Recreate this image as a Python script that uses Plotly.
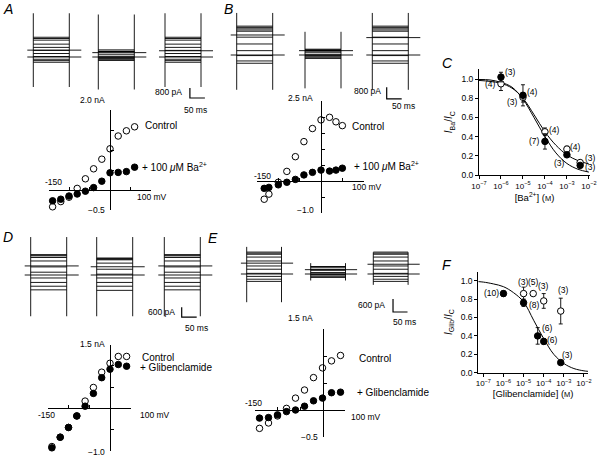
import math
import plotly.graph_objects as go

W, H = 600, 459
FONT = "Liberation Sans, Arial, Helvetica, sans-serif"

# ---------------- I-V relations (mV, nA) ----------------
V_A = [-140, -120, -100, -80, -60, -40, -20, 0, 20, 40, 60]
I_A_CONTROL = [-0.42, -0.29, -0.18, 0.04, 0.28, 0.53, 0.77, 1.03, 1.35, 1.48, 1.58]
I_A_BA = [-0.27, -0.23, -0.15, -0.10, -0.03, 0.06, 0.22, 0.43, 0.44, 0.46, 0.57]

V_B = [-133, -122, -100, -80, -60, -40, -20, 0, 20, 35, 50]
I_B_CONTROL = [-0.57, -0.41, -0.04, 0.30, 0.76, 1.23, 1.64, 1.91, 1.99, 1.85, 1.73]
I_B_BA = [-0.23, -0.20, -0.12, -0.04, 0.05, 0.19, 0.27, 0.34, 0.31, 0.34, 0.40]

V_D = [-140, -120, -100, -80, -60, -40, -20, 0, 20, 40, 60]
I_D_CONTROL = [-0.90, -0.68, -0.45, -0.18, 0.17, 0.49, 0.85, 1.06, 1.22, 1.22, 1.16]
I_D_GLIB = [-0.93, -0.68, -0.45, -0.18, 0.05, 0.35, 0.72, 0.92, 1.03, 0.99, 0.96]

V_E = [-140, -120, -100, -80, -60, -40, -20, 0, 20, 40, 60]
I_E_CONTROL = [-0.34, -0.24, -0.11, 0.03, 0.22, 0.37, 0.60, 0.78, 0.91, 1.01, 0.96]
I_E_GLIB = [-0.15, -0.14, -0.09, -0.03, 0.00, 0.07, 0.17, 0.22, 0.32, 0.33, 0.34]

IV_XTICKS = [-150, -100, -50, 50, 100]

# ---------------- current-record protocol ----------------
PULSE_MS = 120
PRE_MS = 20
POST_MS = 40
HOLD_A = [[0.55, 0.0], [0.35, 0.0], [0.5, 0.0]]
HOLD_B = [[1.38, 0.0], [0.3, 0.0], [1.2, 0.0]]
HOLD_D = [[0.55, 0.0], [0.5, 0.0], [0.55, 0.0]]
HOLD_E = [[0.5, 0.0], [0.2, 0.0], [0.45, 0.0]]
TRANS_A = [[3.5, -2.4], [3.4, -2.6], [3.5, -2.4]]
TRANS_B = [[2.9, -2.4], [1.6, -2.3], [2.9, -2.4]]
TRANS_D = [[2.3, -2.5], [2.3, -2.5], [2.3, -2.5]]
TRANS_E = [[1.25, -1.3], [0.5, -0.3], [1.0, -0.5]]
BAR_MS = 50
BAR_A_PA = 800
BAR_D_PA = 600

# ---------------- dose-response data ----------------
BA_CONC = [1e-6, 1e-5, 1e-4, 1e-3, 4e-3]
BA_FILLED = [1.02, 0.83, 0.35, 0.21, 0.10]
BA_FILLED_ERR = [0.05, 0.11, 0.08, 0.02, 0.02]
BA_FILLED_N = ["(3)", "(4)", "(7)", "(3)", "(3)"]
BA_OPEN = [0.95, 0.81, 0.45, 0.27, 0.13]
BA_OPEN_ERR = [0.07, 0.05, 0.04, 0.03, 0.02]
BA_OPEN_N = ["(4)", "(3)", "(4)", "(4)", "(3)"]
BA_FIT_LOGC = [-7.0, -6.5, -6.0, -5.5, -5.0, -4.5, -4.0, -3.5, -3.0, -2.5, -2.0]
BA_FIT_1 = [0.985, 0.975, 0.955, 0.905, 0.80, 0.63, 0.45, 0.31, 0.21, 0.15, 0.115]
BA_FIT_2 = [0.995, 0.99, 0.965, 0.915, 0.79, 0.60, 0.40, 0.23, 0.12, 0.06, 0.03]

GLIB_CONC = [1e-6, 1e-5, 5e-5, 1e-4, 7e-4]
GLIB_FILLED = [0.86, 0.76, 0.40, 0.34, 0.11]
GLIB_FILLED_ERR = [0.03, 0.04, 0.09, 0.03, 0.01]
GLIB_FILLED_N = ["(10)", "(8)", "(6)", "(6)", "(3)"]
GLIB_OPEN_CONC = [1e-5, 3e-5, 1e-4, 7e-4]
GLIB_OPEN = [0.86, 0.86, 0.78, 0.67]
GLIB_OPEN_ERR = [0.07, 0.0, 0.08, 0.14]
GLIB_OPEN_N = ["(3)", "(5)", "(3)", "(3)"]
GLIB_FIT_LOGC = [-7.25, -7.0, -6.5, -6.0, -5.5, -5.0, -4.5, -4.0, -3.5, -3.0, -2.5, -2.0, -1.8]
GLIB_FIT = [0.99, 0.985, 0.965, 0.935, 0.87, 0.77, 0.57, 0.37, 0.20, 0.10, 0.045, 0.02, 0.015]

DEC_TICKS = [1e-7, 1e-6, 1e-5, 1e-4, 1e-3, 1e-2]
DEC_TEXT = ["10<sup>\u22127</sup>", "10<sup>\u22126</sup>", "10<sup>\u22125</sup>",
            "10<sup>\u22124</sup>", "10<sup>\u22123</sup>", "10<sup>\u22122</sup>"]
FRAC_TICKS = [0.0, 0.2, 0.4, 0.6, 0.8, 1.0]

# ====================================================================
fig = go.Figure()
layout = {}
annotations = []
_count = [0]


def new_axes():
    _count[0] += 1
    k = _count[0]
    s = "" if k == 1 else str(k)
    return "x" + s, "y" + s, "xaxis" + s, "yaxis" + s


def dom_x(a, b):
    return [max(0.0, a / W), min(1.0, b / W)]


def dom_y(top, bottom):
    return [max(0.0, 1 - bottom / H), min(1.0, 1 - top / H)]


# full-figure text frame (pixel units) used only for placing labels
TXT_X, TXT_Y, TXT_XA, TXT_YA = new_axes()
layout[TXT_XA] = dict(domain=[0, 1], range=[0, W], visible=False, anchor=TXT_Y, fixedrange=True)
layout[TXT_YA] = dict(domain=[0, 1], range=[H, 0], visible=False, anchor=TXT_X, fixedrange=True)
fig.add_trace(go.Scatter(x=[], y=[], xaxis=TXT_X, yaxis=TXT_Y, showlegend=False,
                         hoverinfo="skip"))


def ann(text, x, y, xanchor="center", size=9):
    annotations.append(dict(
        text=text, x=x, y=y, xref=TXT_X, yref=TXT_Y,
        xanchor=xanchor, yanchor="middle", xshift=0, yshift=0, showarrow=False,
        font=dict(size=size, family=FONT, color="black")))


LINE = dict(color="black", width=0.9)


def family(levels, trans, holds, px_start, py_zero, sx, sy, arrow=False, bar=None):
    xr, yr, xa, ya = new_axes()
    t_rng = [-30, 170]
    y_hi = min(4.0, (py_zero - 1) / sy)
    y_lo = max(-4.0, -(H - 1 - py_zero) / sy)
    y_rng = [y_lo, y_hi]
    layout[xa] = dict(domain=dom_x(px_start + t_rng[0] * sx, px_start + t_rng[1] * sx),
                      range=t_rng, visible=False, anchor=yr)
    layout[ya] = dict(domain=dom_y(py_zero - y_hi * sy, py_zero - y_lo * sy),
                      range=y_rng, visible=False, anchor=xr)
    xs, ys = [], []
    for lv in levels:
        xs += [0, PULSE_MS, None]
        ys += [lv, lv, None]
    for h in holds:
        xs += [-PRE_MS, PULSE_MS + POST_MS, None]
        ys += [h, h, None]
    for t in (0, PULSE_MS):
        xs += [t, t, None]
        ys += [trans[1], trans[0], None]
    fig.add_trace(go.Scatter(x=xs, y=ys, mode="lines", line=LINE, xaxis=xr, yaxis=yr,
                             hoverinfo="skip", showlegend=False, cliponaxis=False))
    if arrow:
        fig.add_trace(go.Scatter(x=[-58, -42], y=[0, 0], mode="lines+markers",
                                 line=dict(color="black", width=1),
                                 marker=dict(symbol=["line-ew", "triangle-right"], size=[1, 6],
                                             color="black"),
                                 xaxis=xr, yaxis=yr, hoverinfo="skip", showlegend=False,
                                 cliponaxis=False))
    if bar is not None:
        t0, y0, h_pa = bar
        fig.add_trace(go.Scatter(x=[t0, t0, t0 + BAR_MS], y=[y0 + h_pa / 1000.0, y0, y0],
                                 mode="lines", line=dict(color="black", width=1.2),
                                 xaxis=xr, yaxis=yr, hoverinfo="skip", showlegend=False,
                                 cliponaxis=False))


def record_row(level_sets, trans_sets, hold_sets, starts, py_zero, sx, sy, bar):
    for i in range(3):
        family(level_sets[i], trans_sets[i], hold_sets[i], starts[i], py_zero, sx, sy,
               arrow=(i == 0), bar=(bar if i == 2 else None))


def iv_panel(V, I_open, I_filled, px_zero, py_zero, sx, sy, xrng, yrng):
    xr, yr, xa, ya = new_axes()
    px0 = px_zero + xrng[0] * sx
    px1 = px_zero + xrng[1] * sx
    pytop = py_zero - yrng[1] * sy
    pybot = py_zero - yrng[0] * sy
    layout[xa] = dict(domain=dom_x(px0, px1), range=xrng, anchor="free",
                      position=1 - py_zero / H, showline=True, linecolor="black",
                      linewidth=1, ticks="inside", ticklen=3, tickwidth=1, tickcolor="black",
                      tickvals=[v for v in IV_XTICKS if xrng[0] <= v <= xrng[1]],
                      showticklabels=False, showgrid=False, zeroline=False, automargin=False)
    ytv = [v / 2.0 for v in range(int(yrng[0] * 2), int(yrng[1] * 2) + 1) if v != 0]
    layout[ya] = dict(domain=dom_y(pytop, pybot), range=yrng, anchor="free",
                      position=px_zero / W, showline=True, linecolor="black", linewidth=1,
                      ticks="inside", ticklen=3, tickwidth=1, tickcolor="black",
                      tickvals=ytv, showticklabels=False, showgrid=False, zeroline=False,
                      automargin=False)
    fig.add_trace(go.Scatter(x=V, y=I_open, mode="markers",
                             marker=dict(symbol="circle", size=6.5, color="white",
                                         line=dict(color="black", width=1)),
                             xaxis=xr, yaxis=yr, showlegend=False, cliponaxis=False))
    fig.add_trace(go.Scatter(x=V, y=I_filled, mode="markers",
                             marker=dict(symbol="circle", size=6.5, color="black",
                                         line=dict(color="black", width=1)),
                             xaxis=xr, yaxis=yr, showlegend=False, cliponaxis=False))


def dose_panel(px0, px1, pytop, pybot, xrng_log, xtitle, ytitle, fits, filled, opened):
    xr, yr, xa, ya = new_axes()
    layout[xa] = dict(domain=dom_x(px0, px1), type="log", range=xrng_log, anchor=yr,
                      showline=True, linecolor="black", linewidth=1, ticks="outside",
                      ticklen=3, tickwidth=1, tickcolor="black", tickvals=DEC_TICKS,
                      ticktext=DEC_TEXT, tickfont=dict(size=8, family=FONT, color="black"),
                      showgrid=False, zeroline=False, automargin=False,
                      title=dict(text=xtitle, font=dict(size=9.5, family=FONT, color="black"),
                                 standoff=3))
    layout[ya] = dict(domain=dom_y(pytop, pybot), range=[0, 1.1], anchor=xr, showline=True,
                      linecolor="black", linewidth=1, ticks="outside", ticklen=3, tickwidth=1,
                      tickcolor="black", tickvals=FRAC_TICKS, tickformat=".1f",
                      tickfont=dict(size=8.5, family=FONT, color="black"),
                      showgrid=False, zeroline=False, automargin=False,
                      title=dict(text=ytitle, font=dict(size=10, family=FONT, color="black"),
                                 standoff=6))
    for lc, fy in fits:
        fig.add_trace(go.Scatter(x=[10 ** v for v in lc], y=fy, mode="lines",
                                 line=dict(color="black", width=1, shape="spline"),
                                 xaxis=xr, yaxis=yr, showlegend=False, hoverinfo="skip"))
    for (conc, vals, errs, ns, shifts, fill) in (opened, filled):
        fig.add_trace(go.Scatter(
            x=conc, y=vals, mode="markers",
            error_y=dict(type="data", array=errs, visible=True, color="black",
                         thickness=0.9, width=2),
            marker=dict(symbol="circle", size=6.5, color="black" if fill else "white",
                        line=dict(color="black", width=1)),
            xaxis=xr, yaxis=yr, showlegend=False, cliponaxis=False))
        for c, v, n, (dx, dy) in zip(conc, vals, ns, shifts):
            annotations.append(dict(text=n, x=math.log10(c), y=v, xref=xr, yref=yr,
                                    xshift=dx, yshift=dy, showarrow=False,
                                    font=dict(size=8.5, family=FONT, color="black")))


# ---------------- current records ----------------
record_row([I_A_CONTROL, I_A_BA, I_A_CONTROL], TRANS_A, HOLD_A,
           [33.3, 98.3, 165.0], 57, 0.3, 12.5, (83, -3.28, BAR_A_PA))
record_row([I_B_CONTROL, I_B_BA, I_B_CONTROL], TRANS_B, HOLD_B,
           [236.7, 305.0, 372.3], 55, 0.3, 14.5, (48, -3.03, BAR_A_PA))
record_row([I_D_CONTROL, I_D_GLIB, I_D_CONTROL], TRANS_D, HOLD_D,
           [30.7, 96.7, 164.3], 275, 0.3, 16.5, (58, -2.55, BAR_D_PA))
record_row([I_E_CONTROL, I_E_GLIB, I_E_CONTROL], TRANS_E, HOLD_E,
           [246.7, 310.7, 373.3], 274, 0.29, 21.7, (68, -1.75, BAR_D_PA))

# ---------------- I-V plots ----------------
iv_panel(V_A, I_A_CONTROL, I_A_BA, 110, 190, 0.41, 40, [-150, 100], [-0.5, 2.0])
iv_panel(V_B, I_B_CONTROL, I_B_BA, 321, 181, 0.427, 32, [-150, 100], [-1.0, 2.5])
iv_panel(V_D, I_D_CONTROL, I_D_GLIB, 110, 408.3, 0.415, 42.5, [-150, 50], [-1.0, 1.5])
iv_panel(V_E, I_E_CONTROL, I_E_GLIB, 322.5, 410, 0.45, 54, [-150, 50], [-0.5, 1.5])

# ---------------- dose-response ----------------
dose_panel(479, 590, 69.4, 175, [-7.0, -1.95],
           "[Ba<sup>2+</sup>] (<span style='font-size:7.5px'>M</span>)",
           "<i>I</i><sub>Ba</sub>/<i>I</i><sub>C</sub>",
           [(BA_FIT_LOGC, BA_FIT_1), (BA_FIT_LOGC, BA_FIT_2)],
           (BA_CONC, BA_FILLED, BA_FILLED_ERR, BA_FILLED_N,
            [(10, 5), (10, 3), (-10, 0), (-7, -8), (10, -2)], True),
           (BA_CONC, BA_OPEN, BA_OPEN_ERR, BA_OPEN_N,
            [(-10, 0), (-10, -5), (10, 2), (9, 2), (10, 5)], False))
dose_panel(478.3, 588, 271.5, 372.7, [-7.25, -1.8],
           "[Glibenclamide] (<span style='font-size:7.5px'>M</span>)",
           "<i>I</i><sub>Glib</sub>/<i>I</i><sub>C</sub>",
           [(GLIB_FIT_LOGC, GLIB_FIT)],
           (GLIB_CONC, GLIB_FILLED, GLIB_FILLED_ERR, GLIB_FILLED_N,
            [(-12, 1), (11, -2), (10, 8), (9, 1), (7, 8)], True),
           (GLIB_OPEN_CONC, GLIB_OPEN, GLIB_OPEN_ERR, GLIB_OPEN_N,
            [(0, 12), (0, 12), (0, 15), (3, 21)], False))

# ---------------- text ----------------
for letter, x, y in [("A", 8, 9), ("B", 228, 9), ("C", 447, 63),
                     ("D", 8, 237), ("E", 213, 238), ("F", 447, 265)]:
    ann("<i>" + letter + "</i>", x, y, size=14)

# scale-bar labels
ann("800 pA", 184, 92, xanchor="right", size=8.5)
ann("50 ms", 195, 110, size=8.5)
ann("800 pA", 383, 91, xanchor="right", size=8.5)
ann("50 ms", 403, 106, size=8.5)
ann("600 pA", 177, 312, xanchor="right", size=8.5)
ann("50 ms", 196, 328, size=8.5)
ann("600 pA", 387, 305, xanchor="right", size=8.5)
ann("50 ms", 404, 322, size=8.5)

# I-V axis labels
ann("2.0 nA", 107, 100, xanchor="right", size=8.5)
ann("\u22120.5", 107, 210, xanchor="right", size=8.5)
ann("-150", 53, 182, size=8.5)
ann("100 mV", 152, 197, size=8.5)
ann("Control", 143, 125, xanchor="left", size=10)
ann("+ 100 <i>\u03bc</i>M Ba<sup>2+</sup>", 140, 167, xanchor="left", size=10)

ann("2.5 nA", 315, 98, xanchor="right", size=8.5)
ann("\u22121.0", 316, 210, xanchor="right", size=8.5)
ann("-150", 262, 176, size=8.5)
ann("100 mV", 367, 187, size=8.5)
ann("Control", 350, 126, xanchor="left", size=10)
ann("+ 100 <i>\u03bc</i>M Ba<sup>2+</sup>", 352, 166, xanchor="left", size=10)

ann("1.5 nA", 107, 344, xanchor="right", size=8.5)
ann("\u22121.0", 107, 452, xanchor="right", size=8.5)
ann("-150", 46, 415, size=8.5)
ann("100 mV", 155, 415, size=8.5)
ann("Control", 140, 357, xanchor="left", size=10)
ann("+ Glibenclamide", 138, 367, xanchor="left", size=10)

ann("1.5 nA", 315, 318, xanchor="right", size=8.5)
ann("\u22120.5", 320, 437, xanchor="right", size=8.5)
ann("-150", 253, 403, size=8.5)
ann("100 mV", 366, 417, size=8.5)
ann("Control", 357, 358, xanchor="left", size=10)
ann("+ Glibenclamide", 355, 392, xanchor="left", size=10)

fig.update_layout(width=W, height=H,
                  margin=dict(l=0, r=0, t=0, b=0, pad=0, autoexpand=False),
                  paper_bgcolor="white", plot_bgcolor="rgba(0,0,0,0)",
                  font=dict(family=FONT, color="black", size=9),
                  showlegend=False, annotations=annotations, **layout)

fig.write_html("out.html", config={"displayModeBar": False},
               post_script="document.body.style.margin='0';document.body.style.padding='0';")
